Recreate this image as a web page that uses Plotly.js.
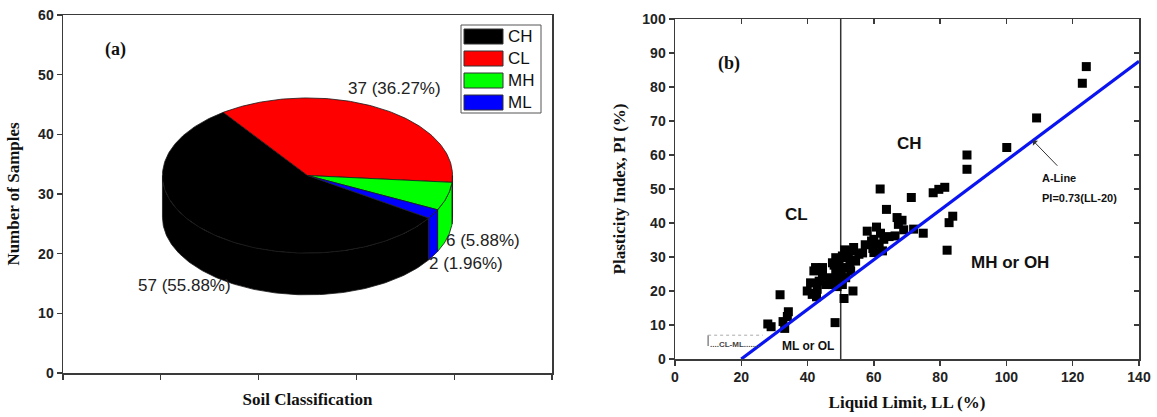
<!DOCTYPE html>
<html>
<head>
<meta charset="utf-8">
<script src="https://cdn.plot.ly/plotly-3.0.1.min.js"></script>
<style>
  html, body { margin: 0; padding: 0; background: #fff; }
  #chart { width: 1157px; height: 417px; }
</style>
</head>
<body>
<div id="chart"></div>
<script>
// ---- Soil classification counts (panel a) ----
const soilClasses = ['CH', 'CL', 'MH', 'ML'];
const sampleCounts = [57, 37, 6, 2];
const sliceColors = ['#000000', '#ff0000', '#00ff00', '#0000ff'];

// ---- Atterberg limits of the samples (panel b) ----
const liquidLimit = [
  124.1, 122.9, 109.1, 100.1, 88.1, 88.1, 81.4, 79.6, 77.9, 71.3,
  61.9, 63.8, 83.8, 82.7, 82.1, 74.9, 72.0, 67.0, 68.5, 69.0,
  58.0, 60.8, 62.0, 63.0, 64.6, 66.4, 67.4, 57.4, 56.6, 59.3,
  60.0, 61.6, 62.6, 60.0, 59.7, 55.5, 53.9, 53.3, 52.3, 51.2,
  54.5, 52.0, 50.5, 54.4, 52.8,
  48.5, 47.5, 49.5, 48.0, 51.0, 53.0, 48.5, 50.0, 51.5, 49.1,
  50.2, 48.6, 48.0, 49.0, 48.9, 50.5,
  44.5, 42.4, 41.9, 44.5, 46.5, 43.5, 40.9, 45.5, 47.5, 39.9,
  41.4, 42.9, 42.7, 41.6,
  51.0, 53.7,
  31.7, 34.2, 33.9, 32.6, 33.1, 28.0, 29.0, 48.3
];
const plasticityIndex = [
  86.0, 81.1, 70.9, 62.2, 60.0, 55.8, 50.5, 49.9, 48.9, 47.5,
  50.0, 44.0, 42.0, 40.1, 32.0, 37.0, 38.2, 41.6, 40.8, 38.0,
  37.6, 38.8, 37.0, 35.2, 36.0, 36.2, 39.6, 33.6, 31.2, 34.7,
  35.2, 33.8, 31.8, 31.3, 32.5, 30.8, 32.8, 31.8, 31.3, 32.1,
  28.8, 29.8, 30.3, 29.1, 28.1,
  29.8, 28.3, 27.8, 27.6, 26.9, 25.9, 25.4, 24.9, 23.9, 26.2,
  25.2, 23.7, 22.7, 22.9, 21.3, 21.9,
  26.9, 26.9, 25.9, 24.4, 23.9, 22.9, 22.4, 21.9, 21.9, 20.0,
  19.0, 20.5, 18.3, 19.3,
  17.8, 20.0,
  18.9, 13.9, 12.5, 11.0, 9.0, 10.3, 9.5, 10.7
];

// Casagrande chart boundaries
const aLineLL = [20, 140];          // A-line: PI = 0.73 (LL - 20)
const aLineSlope = 0.73;
const aLineZero = 20;
const highPlasticityLL = 50;        // LL = 50 divides low / high plasticity

// ---- page geometry helpers (pixels -> paper fractions) ----
const W = 1157, H = 417;
const fx = p => p / W;
const fy = p => 1 - p / H;

const SANS = 'Liberation Sans, Arial, sans-serif';
const SERIF = 'Liberation Serif, Times New Roman, serif';
const AXIS_COLOR = '#3a3a3a';

// ---- 3D pie drawn in panel (a) axis units ----
const pie = { cx: 2.5, cy: 33.1, rx: 1.483, ry: 13.0, depth: 7.0, startDeg: -33.3 };
const total = sampleCounts.reduce((a, b) => a + b, 0);
const rad = d => d * Math.PI / 180;
const ex = t => pie.cx + pie.rx * Math.cos(rad(t));
const ey = (t, dz) => pie.cy - dz + pie.ry * Math.sin(rad(t));

function arc(from, to, dz) {
  const n = Math.max(2, Math.ceil(Math.abs(to - from) / 1));
  const xs = [], ys = [];
  for (let i = 0; i <= n; i++) {
    const t = from + (to - from) * i / n;
    xs.push(ex(t)); ys.push(ey(t, dz));
  }
  return [xs, ys];
}

const slices = [];
let a0 = pie.startDeg;
sampleCounts.forEach((v, i) => {
  const a1 = a0 - 360 * v / total;   // clockwise
  slices.push({ i, hi: a0, lo: a1 });
  a0 = a1;
});

const traces = [];
const edge = { color: '#1a1a1a', width: 0.8 };

// side walls: only the front half (sin < 0) is visible
slices.forEach(s => {
  for (let k = -2; k <= 1; k++) {
    const vLo = -180 + 360 * k, vHi = 0 + 360 * k;
    const lo = Math.max(s.lo, vLo), hi = Math.min(s.hi, vHi);
    if (hi - lo <= 0.01) continue;
    const [tx, ty] = arc(hi, lo, 0);
    const [bx, by] = arc(lo, hi, pie.depth);
    traces.push({
      type: 'scatter', mode: 'lines', xaxis: 'x', yaxis: 'y',
      x: tx.concat(bx, [tx[0]]), y: ty.concat(by, [ty[0]]),
      fill: 'toself', fillcolor: sliceColors[s.i], line: edge,
      hoverinfo: 'skip', showlegend: false
    });
  }
});

// top faces
slices.forEach(s => {
  const [ax, ay] = arc(s.hi, s.lo, 0);
  traces.push({
    type: 'scatter', mode: 'lines', xaxis: 'x', yaxis: 'y',
    x: [pie.cx].concat(ax, [pie.cx]), y: [pie.cy].concat(ay, [pie.cy]),
    fill: 'toself', fillcolor: sliceColors[s.i], line: edge,
    name: soilClasses[s.i], hoverinfo: 'skip', showlegend: false
  });
});

// ---- panel (b) traces ----
traces.push({
  type: 'scatter', mode: 'lines', xaxis: 'x2', yaxis: 'y2',
  x: [highPlasticityLL, highPlasticityLL], y: [0, 100],
  line: { color: '#333', width: 1.5 }, hoverinfo: 'skip', showlegend: false
});
traces.push({
  type: 'scatter', mode: 'markers', xaxis: 'x2', yaxis: 'y2',
  x: liquidLimit, y: plasticityIndex,
  marker: { symbol: 'square', size: 9, color: '#000' },
  showlegend: false
});
traces.push({
  type: 'scatter', mode: 'lines', xaxis: 'x2', yaxis: 'y2',
  x: aLineLL, y: aLineLL.map(ll => aLineSlope * (ll - aLineZero)),
  line: { color: '#0a14f0', width: 3.2 }, hoverinfo: 'skip', showlegend: false
});
// carrier for the inward top/right tick axes
traces.push({ type: 'scatter', x: [], y: [], xaxis: 'x3', yaxis: 'y3', showlegend: false, hoverinfo: 'skip' });

// ---- labels ----
const pct = v => `${v} (${(100 * v / total).toFixed(2)}%)`;
const pieLabelPos = {
  CH: { x: 1.24, y: 14.7, xanchor: 'center' },
  CL: { x: 3.39, y: 47.7, xanchor: 'center' },
  MH: { x: 3.90, y: 22.2, xanchor: 'left' },
  ML: { x: 3.72, y: 18.4, xanchor: 'left' }
};
const annotations = [];
soilClasses.forEach((c, i) => {
  const p = pieLabelPos[c];
  annotations.push({
    xref: 'x', yref: 'y', x: p.x, y: p.y, xanchor: p.xanchor, yanchor: 'middle',
    text: pct(sampleCounts[i]), showarrow: false,
    font: { family: SANS, size: 17, color: '#222' }
  });
});
annotations.push({
  xref: 'x', yref: 'y', x: 0.54, y: 54.3, text: '<b>(a)</b>', showarrow: false,
  font: { family: SERIF, size: 18, color: '#111' }
});

// legend block for the pie
const legendShapes = [];
legendShapes.push({
  type: 'rect', xref: 'paper', yref: 'paper',
  x0: fx(461), x1: fx(541), y0: fy(113), y1: fy(25),
  line: { color: '#555', width: 1 }, fillcolor: '#fff'
});
soilClasses.forEach((c, i) => {
  const top = 29 + i * 22;
  legendShapes.push({
    type: 'rect', xref: 'paper', yref: 'paper',
    x0: fx(464), x1: fx(503), y0: fy(top + 15), y1: fy(top),
    line: { color: '#333', width: 1 }, fillcolor: sliceColors[i]
  });
  annotations.push({
    xref: 'paper', yref: 'paper', x: fx(506), y: fy(top + 7.5),
    xanchor: 'left', yanchor: 'middle', text: c, showarrow: false,
    font: { family: SANS, size: 17, color: '#111' }
  });
});

// panel (b) zone labels
const zoneLabel = (x, y, text, size, xanchor) => ({
  xref: 'x2', yref: 'y2', x, y, text: `<b>${text}</b>`, showarrow: false,
  xanchor: xanchor || 'center', yanchor: 'middle',
  font: { family: SANS, size, color: '#111' }
});
annotations.push(zoneLabel(70.9, 63.5, 'CH', 17));
annotations.push(zoneLabel(36.8, 42.4, 'CL', 17));
annotations.push(zoneLabel(101, 28.5, 'MH or OH', 17));
annotations.push(zoneLabel(40, 3.8, 'ML or OL', 12));
annotations.push(zoneLabel(110.1, 53.2, 'A-Line', 11, 'left'));
annotations.push(zoneLabel(110.1, 47.4, 'PI=0.73(LL-20)', 11, 'left'));
annotations.push({
  xref: 'x2', yref: 'y2', x: 108, y: aLineSlope * (108 - aLineZero),
  axref: 'x2', ayref: 'y2', ax: 115.8, ay: 56.4,
  text: '', showarrow: true, arrowhead: 1, arrowsize: 1.2, arrowwidth: 1, arrowcolor: '#333'
});
annotations.push({
  xref: 'x2', yref: 'y2', x: 9.9, y: 4.4, xanchor: 'left', yanchor: 'middle',
  text: '<b>....CL-ML.......</b>', showarrow: false,
  font: { family: SANS, size: 8, color: '#444' }
});
annotations.push({
  xref: 'x2', yref: 'y2', x: 16.3, y: 86.8, text: '<b>(b)</b>', showarrow: false,
  font: { family: SERIF, size: 18, color: '#111' }
});

const shapes = legendShapes.concat([
  { type: 'line', xref: 'x2', yref: 'y2', x0: 10, x1: 10, y0: 3.8, y1: 7,
    line: { color: '#888', width: 1.5 } },
  { type: 'line', xref: 'x2', yref: 'y2', x0: 10, x1: 26.5, y0: 7, y1: 7,
    line: { color: '#aaa', width: 1, dash: 'dot' } }
]);

const tickFont = { family: SANS, size: 14, color: '#222', weight: 'bold' };
const titleFont = { family: SERIF, size: 17, color: '#111', weight: 'bold' };
const baseAxis = {
  showgrid: false, zeroline: false, showline: true,
  linecolor: AXIS_COLOR, linewidth: 1.5,
  ticks: 'outside', ticklen: 5, tickwidth: 1.3, tickcolor: AXIS_COLOR,
  tickfont: tickFont, fixedrange: true
};

const layout = {
  width: W, height: H,
  margin: { l: 0, r: 0, t: 0, b: 0 },
  paper_bgcolor: '#fff', plot_bgcolor: 'rgba(0,0,0,0)',
  showlegend: false,
  xaxis: Object.assign({}, baseAxis, {
    domain: [fx(63), fx(552)], range: [0, 5], dtick: 1, tick0: 0,
    showticklabels: false, mirror: true, anchor: 'y',
    title: { text: 'Soil Classification', font: titleFont, standoff: 14 }
  }),
  yaxis: Object.assign({}, baseAxis, {
    domain: [fy(373), fy(15)], range: [0, 60], dtick: 10, mirror: true, anchor: 'x',
    title: { text: 'Number of Samples', font: titleFont, standoff: 14 }
  }),
  xaxis2: Object.assign({}, baseAxis, {
    domain: [fx(675), fx(1139)], range: [0, 140], dtick: 20, anchor: 'y2',
    title: { text: 'Liquid Limit, LL (%)', font: titleFont, standoff: 12 }
  }),
  yaxis2: Object.assign({}, baseAxis, {
    domain: [fy(359), fy(19)], range: [0, 100], dtick: 10, anchor: 'x2',
    title: { text: 'Plasticity Index, PI (%)', font: titleFont, standoff: 12 }
  }),
  xaxis3: Object.assign({}, baseAxis, {
    overlaying: 'x2', side: 'top', anchor: 'y3', range: [0, 140], dtick: 20,
    ticks: 'inside', showticklabels: false
  }),
  yaxis3: Object.assign({}, baseAxis, {
    overlaying: 'y2', side: 'right', anchor: 'x3', range: [0, 100], dtick: 10,
    ticks: 'inside', showticklabels: false
  }),
  annotations, shapes
};

Plotly.newPlot('chart', traces, layout, { displayModeBar: false, staticPlot: true });
</script>
</body>
</html>
